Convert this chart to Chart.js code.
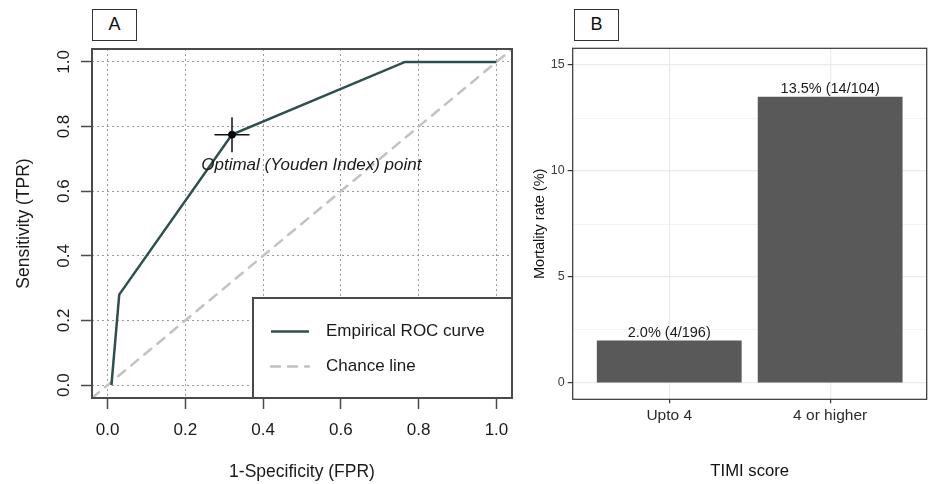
<!DOCTYPE html>
<html>
<head>
<meta charset="utf-8">
<script src="https://cdn.jsdelivr.net/npm/chart.js@4.4.0/dist/chart.umd.min.js"></script>
<style>
    body { margin: 0; background: #fff; width: 928px; height: 484px; overflow: hidden; position: relative; font-family: "Liberation Sans", Arial, sans-serif; }
    .panel { position: absolute; top: 0; height: 484px; }
    #panelA { left: 0; width: 520px; }
    #panelB { left: 520px; width: 408px; }
    .tag { position: absolute; top: 9px; height: 32px; width: 45px; box-sizing: border-box; border: 1.5px solid #333; text-align: center; line-height: 29px; font-size: 18px; color: #111; background: #fff; }
</style>
</head>
<body>
<div class="panel" id="panelA"><canvas id="rocChart" width="520" height="484"></canvas></div>
<div class="panel" id="panelB"><canvas id="timiChart" width="408" height="484"></canvas></div>
<div class="tag" style="left:92px">A</div>
<div class="tag" style="left:574px">B</div>
<script>
    "use strict";

    // Panel A - ROC curve
    const rocFpr = [0.01, 0.03, 0.32, 0.765, 1.0];
    const rocTpr = [0.0, 0.28, 0.775, 1.0, 1.0];
    const chanceEnds = [-0.04, 1.04];
    const optimalPoint = [0.32, 0.775];
    const rocTicks = [0, 0.2, 0.4, 0.6, 0.8, 1.0];
    const youdenLabel = 'Optimal (Youden Index) point';
    const youdenLabelAt = [0.524, 0.68];

    // Panel B - mortality by TIMI score
    const timiGroups = ['Upto 4', '4 or higher'];
    const mortalityRate = [2.0, 13.5];
    const deaths = [4, 14];
    const patients = [196, 104];
    const rateMajorTicks = [0, 5, 10, 15];
    const rateMinorTicks = [2.5, 7.5, 12.5];

    const fontFamily = '"Liberation Sans", Arial, sans-serif';
    Chart.defaults.font.family = fontFamily;
    Chart.defaults.color = '#1a1a1a';

    // keep the plot box where it is, whatever the tick labels overhang
    const noOverhang = s => {
        s.paddingLeft = 0;
        s.paddingRight = 0;
        s.paddingTop = 0;
        s.paddingBottom = 0;
    };

    // Frame, label and legend for the ROC panel
    const rocFrame = {
        id: 'rocFrame',
        afterDatasetsDraw(chart) {
            const { ctx, chartArea: a, scales: { x, y } } = chart;
            ctx.save();

            ctx.font = 'italic 17px ' + fontFamily;
            ctx.fillStyle = '#1a1a1a';
            ctx.textAlign = 'center';
            ctx.textBaseline = 'middle';
            ctx.fillText(youdenLabel, x.getPixelForValue(youdenLabelAt[0]), y.getPixelForValue(youdenLabelAt[1]));

            ctx.strokeStyle = '#4a4a4a';
            ctx.lineWidth = 2;
            ctx.strokeRect(a.left, a.top, a.right - a.left, a.bottom - a.top);

            // legend box in the bottom right corner
            const lw = 259, lh = 100;
            const lx = a.right - lw, ly = a.bottom - lh;
            ctx.fillStyle = '#fff';
            ctx.fillRect(lx, ly, lw, lh);
            ctx.strokeRect(lx, ly, lw, lh);

            const items = chart.data.datasets.filter(d => d.inLegend);
            items.forEach((d, i) => {
                const cy = ly + 33.5 + i * 35;
                ctx.beginPath();
                ctx.setLineDash(d.borderDash || []);
                ctx.lineCap = d.borderCapStyle || 'butt';
                ctx.strokeStyle = d.borderColor;
                ctx.lineWidth = d.borderWidth;
                ctx.moveTo(lx + 18, cy);
                ctx.lineTo(lx + 56, cy);
                ctx.stroke();
                ctx.setLineDash([]);
                ctx.fillStyle = '#1a1a1a';
                ctx.textAlign = 'left';
                ctx.font = '17px ' + fontFamily;
                ctx.fillText(d.label, lx + 73, cy);
            });
            ctx.restore();
        }
    };

    new Chart(document.getElementById('rocChart'), {
        type: 'line',
        data: {
            datasets: [{
                label: 'Empirical ROC curve',
                inLegend: true,
                data: rocFpr.map((v, i) => ({ x: v, y: rocTpr[i] })),
                borderColor: '#2f4f4f',
                borderWidth: 2.5,
                pointRadius: 0,
                tension: 0,
                order: 1
            }, {
                label: 'Chance line',
                inLegend: true,
                data: chanceEnds.map(v => ({ x: v, y: v })),
                borderColor: '#c2c2c2',
                borderWidth: 2.5,
                borderDash: [9, 8],
                borderCapStyle: 'round',
                pointRadius: 0,
                order: 2
            }, {
                type: 'scatter',
                label: 'Optimal cross',
                data: [{ x: optimalPoint[0], y: optimalPoint[1] }],
                pointStyle: 'cross',
                pointRadius: 17.5,
                borderColor: '#111',
                pointBorderWidth: 1.5,
                order: 0
            }, {
                type: 'scatter',
                label: 'Optimal point',
                data: [{ x: optimalPoint[0], y: optimalPoint[1] }],
                pointStyle: 'circle',
                pointRadius: 3.5,
                backgroundColor: '#000',
                borderColor: '#000',
                order: 0
            }]
        },
        options: {
            responsive: false,
            animation: false,
            events: [],
            layout: { autoPadding: false, padding: { top: 49, right: 8, left: 0, bottom: 0 } },
            plugins: { legend: { display: false }, tooltip: { enabled: false } },
            scales: {
                x: {
                    type: 'linear',
                    min: -0.04,
                    max: 1.04,
                    afterBuildTicks: s => { s.ticks = rocTicks.map(v => ({ value: v })); },
                    afterFit: s => { s.height = 86; noOverhang(s); },
                    grid: { color: '#9c9c9c', lineWidth: 1, tickLength: 11, tickColor: '#4a4a4a', tickWidth: 1.5 },
                    border: { display: false, dash: [2, 3] },
                    ticks: { autoSkip: false, maxRotation: 0, padding: 11, font: { size: 17 }, callback: v => v.toFixed(1) },
                    title: { display: true, text: '1-Specificity (FPR)', font: { size: 17.5 }, padding: { top: 0, bottom: 1.5 } }
                },
                y: {
                    type: 'linear',
                    min: -0.04,
                    max: 1.04,
                    afterBuildTicks: s => { s.ticks = rocTicks.map(v => ({ value: v })); },
                    afterFit: s => { s.width = 92; noOverhang(s); },
                    grid: { color: '#9c9c9c', lineWidth: 1, tickLength: 11, tickColor: '#4a4a4a', tickWidth: 1.5 },
                    border: { display: false, dash: [2, 3] },
                    ticks: { autoSkip: false, minRotation: 90, maxRotation: 90, crossAlign: 'center', padding: 5, font: { size: 17 }, callback: v => v.toFixed(1) },
                    title: { display: true, text: 'Sensitivity (TPR)', font: { size: 17.5 }, padding: { top: 14, bottom: 0 } }
                }
            }
        },
        plugins: [rocFrame]
    });

    // Frame and value labels for the bar panel
    const barFrame = {
        id: 'barFrame',
        afterDatasetsDraw(chart) {
            const { ctx, chartArea: a } = chart;
            ctx.save();
            ctx.font = '14.5px ' + fontFamily;
            ctx.fillStyle = '#1a1a1a';
            ctx.textAlign = 'center';
            ctx.textBaseline = 'bottom';
            chart.getDatasetMeta(0).data.forEach((bar, i) => {
                const txt = mortalityRate[i].toFixed(1) + '% (' + deaths[i] + '/' + patients[i] + ')';
                ctx.fillText(txt, bar.x, bar.y - 0.5);
            });
            ctx.strokeStyle = '#333';
            ctx.lineWidth = 1.2;
            ctx.strokeRect(a.left, a.top, a.right - a.left, a.bottom - a.top);
            ctx.restore();
        }
    };

    const rateTicks = rateMajorTicks.concat(rateMinorTicks).sort((p, q) => p - q);
    const isMajor = v => rateMajorTicks.includes(v);

    new Chart(document.getElementById('timiChart'), {
        type: 'bar',
        data: {
            datasets: [{
                label: 'Mortality rate (%)',
                data: mortalityRate.map((v, i) => ({ x: i + 1, y: v })),
                backgroundColor: '#595959',
                barPercentage: 0.9,
                categoryPercentage: 1.0
            }]
        },
        options: {
            responsive: false,
            animation: false,
            events: [],
            layout: { autoPadding: false, padding: { top: 48.3, right: 1.3, left: 0, bottom: 0 } },
            plugins: { legend: { display: false }, tooltip: { enabled: false } },
            scales: {
                x: {
                    type: 'linear',
                    offset: false,
                    min: 0.4,
                    max: 2.6,
                    afterBuildTicks: s => { s.ticks = timiGroups.map((g, i) => ({ value: i + 1 })); },
                    afterFit: s => { s.height = 84.7; noOverhang(s); },
                    grid: { offset: false, color: '#ebebeb', lineWidth: 1.2, tickLength: 4, tickColor: '#333', tickWidth: 1.2 },
                    border: { display: false },
                    ticks: { autoSkip: false, maxRotation: 0, padding: 3.5, color: '#2b2b2b', font: { size: 15.5 }, callback: (v, i) => timiGroups[i] },
                    title: { display: true, text: 'TIMI score', color: '#111', font: { size: 16.7 }, padding: { top: 0, bottom: 3 } }
                },
                y: {
                    type: 'linear',
                    min: -0.77,
                    max: 15.79,
                    afterBuildTicks: s => { s.ticks = rateTicks.map(v => ({ value: v })); },
                    afterFit: s => { s.width = 52.7; noOverhang(s); },
                    grid: {
                        color: '#ebebeb',
                        lineWidth: c => (c.tick && isMajor(c.tick.value)) ? 1.2 : 0.6,
                        tickLength: 5,
                        tickColor: c => (c.tick && isMajor(c.tick.value)) ? '#333' : 'rgba(0,0,0,0)',
                        tickWidth: 1.2
                    },
                    border: { display: false },
                    ticks: { autoSkip: false, padding: 3, color: '#3d3d3d', font: { size: 12.5 }, callback: v => isMajor(v) ? String(v) : '' },
                    title: { display: true, text: 'Mortality rate (%)', color: '#111', font: { size: 14.5 }, padding: { top: 11, bottom: 0 } }
                }
            }
        },
        plugins: [barFrame]
    });
</script>
</body>
</html>
